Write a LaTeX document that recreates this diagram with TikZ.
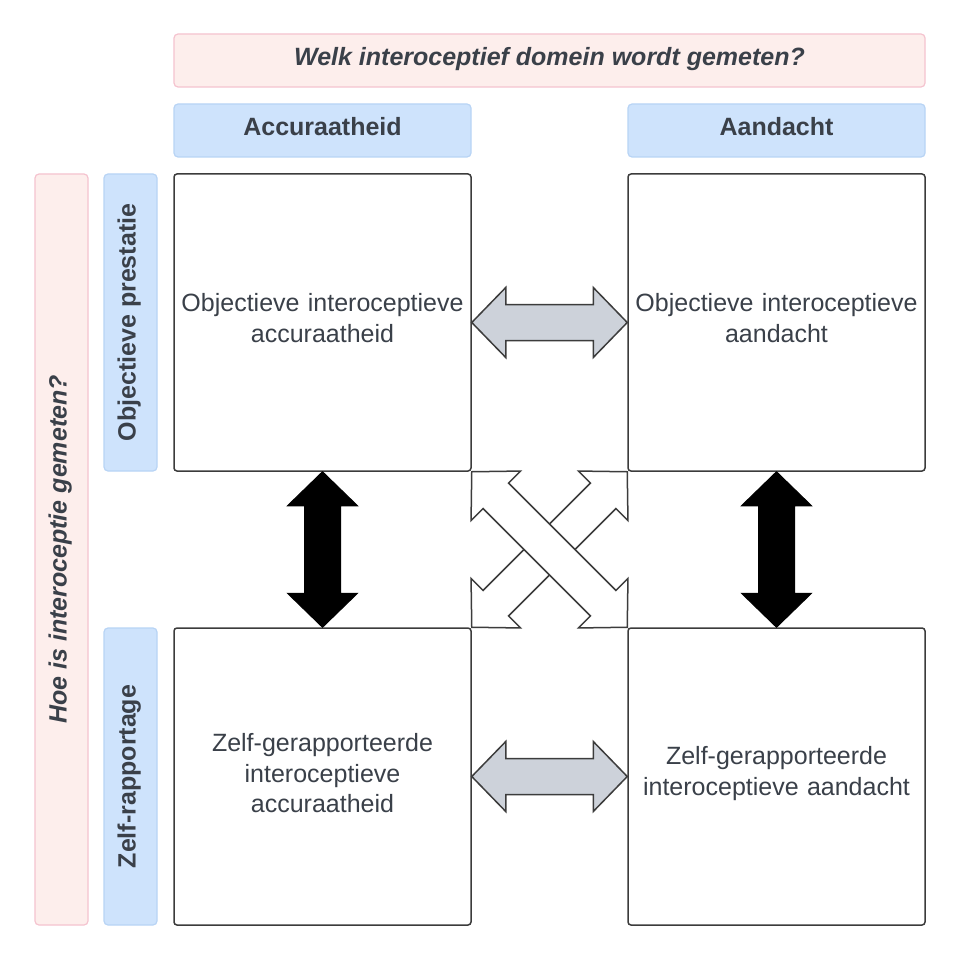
\documentclass[tikz,border=0pt]{standalone}
\usepackage{fontspec}
\setmainfont{Liberation Sans}
\usetikzlibrary{calc}
\definecolor{txt}{HTML}{3A4049}
\definecolor{edge}{HTML}{3C3C3C}
\definecolor{bluefill}{HTML}{CEE3FC}
\definecolor{blueedge}{HTML}{B8D4F5}
\definecolor{pinkfill}{HTML}{FDEEEC}
\definecolor{pinkedge}{HTML}{F5C3CF}
\definecolor{arrgray}{HTML}{CDD2DA}
\tikzset{
  box/.style={draw=edge, line width=1.5pt, rounded corners=3pt, minimum width=297pt, minimum height=297pt,
    inner sep=0pt},
  boxtext/.style={inner sep=0pt, text width=294pt, align=center, font=\fontsize{25}{30.5}\selectfont, text=txt},
  headbox/.style={line width=1.2pt, rounded corners=4pt, inner sep=0pt, text height=18pt, text depth=8pt},
  bluebox/.style={headbox, draw=blueedge, fill=bluefill, font=\fontsize{25}{30}\selectfont\bfseries, text=txt},
  pinkbox/.style={headbox, draw=pinkedge, fill=pinkfill, font=\fontsize{25}{30}\selectfont\bfseries\itshape, text=txt},
  grayarrow/.style={draw=edge, fill=arrgray, line width=1.5pt, line join=miter},
  blackarrow/.style={draw=black, fill=black, line width=1pt, line join=miter},
  whitearrow/.style={draw=edge, fill=white, line width=1.5pt, line join=miter},
}
\newcommand\dblarr[3]{%
  \draw[#1] (#2)
    -- ($(#2)!34pt!(#3)!35pt!90:(#3)$)
    -- ($(#2)!34pt!(#3)!18pt!90:(#3)$)
    -- ($(#3)!34pt!(#2)!18pt!-90:(#2)$)
    -- ($(#3)!34pt!(#2)!35pt!-90:(#2)$)
    -- (#3)
    -- ($(#3)!34pt!(#2)!35pt!90:(#2)$)
    -- ($(#3)!34pt!(#2)!18pt!90:(#2)$)
    -- ($(#2)!34pt!(#3)!18pt!-90:(#3)$)
    -- ($(#2)!34pt!(#3)!35pt!-90:(#3)$)
    -- cycle;}
\begin{document}
\begin{tikzpicture}[x=1pt,y=-1pt]
\useasboundingbox (0,0) rectangle (960,960);
\fill[white] (0,0) rectangle (960,960);

% headers
\node[pinkbox, minimum width=751pt, minimum height=53pt] (top) at (549.5,60.5) {Welk interoceptief domein wordt gemeten?};
\node[bluebox, minimum width=297pt, minimum height=53pt] (hacc) at (322.5,130.5) {Accuraatheid};
\node[bluebox, minimum width=297pt, minimum height=53pt] (haan) at (776.5,130.5) {Aandacht};
\node[pinkbox, minimum width=751pt, minimum height=53pt, rotate=90] (left) at (61.5,549.5) {Hoe is interoceptie gemeten?};
\node[bluebox, minimum width=297pt, minimum height=53pt, rotate=90] (vobj) at (130.5,322.5) {Objectieve prestatie};
\node[bluebox, minimum width=297pt, minimum height=53pt, rotate=90] (vzelf) at (130.5,776.5) {Zelf-rapportage};

% boxes
\node[box] (tl) at (322.5,322.5) {};
\node[box] (tr) at (776.5,322.5) {};
\node[box] (bl) at (322.5,776.5) {};
\node[box] (br) at (776.5,776.5) {};
\node[boxtext] (tlt) at ([yshift=4.5pt]tl.center) {Objectieve interoceptieve\\accuraatheid};
\node[boxtext] (trt) at ([yshift=4.5pt]tr.center) {Objectieve interoceptieve\\aandacht};
\node[boxtext] (blt) at ([yshift=3pt]bl.center) {Zelf-gerapporteerde\\interoceptieve\\accuraatheid};
\node[boxtext] (brt) at ([yshift=3pt]br.center) {Zelf-gerapporteerde\\interoceptieve aandacht};

% arrows
\dblarr{grayarrow}{tl.east}{tr.west}
\dblarr{grayarrow}{bl.east}{br.west}
\dblarr{blackarrow}{tl.south}{bl.north}
\dblarr{blackarrow}{tr.south}{br.north}
\dblarr{whitearrow}{tr.south west}{bl.north east}
\dblarr{whitearrow}{tl.south east}{br.north west}
\end{tikzpicture}
\end{document}
